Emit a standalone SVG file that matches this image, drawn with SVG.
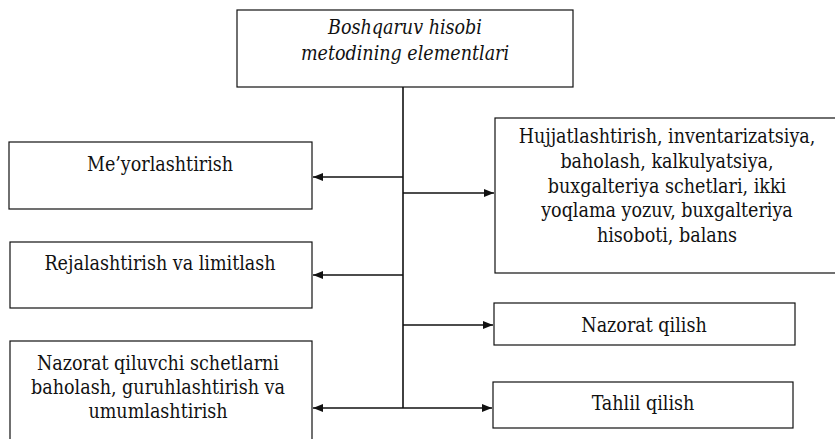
<svg xmlns="http://www.w3.org/2000/svg" width="835" height="439" viewBox="0 0 835 439">
<style>
.box{fill:#fff;stroke:#111;stroke-width:1.2}
.t{font-family:'DejaVu Serif Condensed','DejaVu Serif','Liberation Serif',serif;font-stretch:condensed;font-size:19.5px;fill:#111;text-anchor:middle}
.i{font-style:italic}
.c{fill:none;stroke:#111;stroke-width:1.6}
</style>
<defs>
<marker id="ah" viewBox="0 0 10 8" refX="10" refY="4" markerWidth="11" markerHeight="8" markerUnits="userSpaceOnUse" orient="auto">
<path d="M0,0 L10,4 L0,8 z" fill="#111"/>
</marker>
</defs>
<rect width="835" height="439" fill="#fff"/>
<g id="connectors">
<path class="c" d="M403,87 V408"/>
<path class="c" d="M403,177 H313" marker-end="url(#ah)"/>
<path class="c" d="M403,275 H313" marker-end="url(#ah)"/>
<path class="c" d="M403,408 H313" marker-end="url(#ah)"/>
<path class="c" d="M403,193 H494" marker-end="url(#ah)"/>
<path class="c" d="M403,325 H493" marker-end="url(#ah)"/>
<path class="c" d="M403,408 H492" marker-end="url(#ah)"/>
</g>
<g id="root">
<rect class="box" x="237" y="10" width="336" height="77"/>
<text class="t i" x="405" y="34">Boshqaruv hisobi</text>
<text class="t i" x="405" y="60">metodining elementlari</text>
</g>
<g id="meyorlashtirish">
<rect class="box" x="9" y="142" width="303" height="67"/>
<text class="t" x="160" y="171">Me’yorlashtirish</text>
</g>
<g id="rejalashtirish">
<rect class="box" x="10" y="242" width="302" height="66"/>
<text class="t" x="160" y="270">Rejalashtirish va limitlash</text>
</g>
<g id="nazorat-schetlar">
<rect class="box" x="10" y="341" width="302" height="110"/>
<text class="t" x="158" y="370">Nazorat qiluvchi schetlarni</text>
<text class="t" x="158" y="394">baholash, guruhlashtirish va</text>
<text class="t" x="158" y="418">umumlashtirish</text>
</g>
<g id="hujjatlashtirish">
<rect class="box" x="495" y="118" width="350" height="155"/>
<text class="t" x="667" y="143">Hujjatlashtirish, inventarizatsiya,</text>
<text class="t" x="667" y="168">baholash, kalkulyatsiya,</text>
<text class="t" x="667" y="193">buxgalteriya schetlari, ikki</text>
<text class="t" x="667" y="217">yoqlama yozuv, buxgalteriya</text>
<text class="t" x="667" y="242">hisoboti, balans</text>
</g>
<g id="nazorat">
<rect class="box" x="494" y="303" width="301" height="42"/>
<text class="t" x="644" y="332">Nazorat qilish</text>
</g>
<g id="tahlil">
<rect class="box" x="493" y="382" width="300" height="46"/>
<text class="t" x="643" y="410">Tahlil qilish</text>
</g>
</svg>
